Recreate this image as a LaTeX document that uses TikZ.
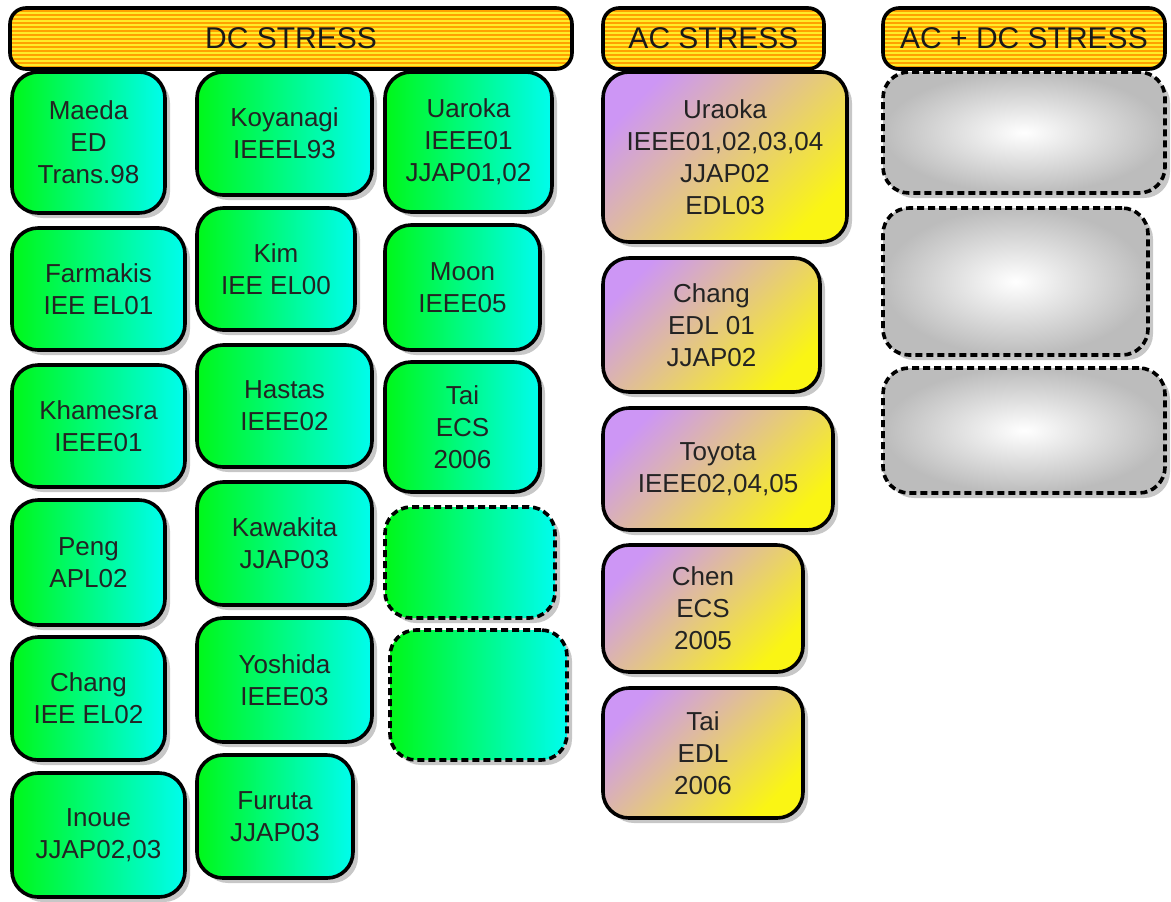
\documentclass[tikz,border=0pt]{standalone}
\usepackage{fontspec}
\setmainfont{Liberation Sans}
\usepackage{tikz}
\usetikzlibrary{shadows,patterns.meta}
\definecolor{dcleft}{RGB}{0,248,25}
\definecolor{dcright}{RGB}{0,252,238}
\definecolor{acpurple}{RGB}{205,150,245}
\definecolor{acyellow}{RGB}{250,245,20}
\definecolor{grayout}{RGB}{188,188,188}
\definecolor{hdorange}{RGB}{255,160,0}
\definecolor{hdstripe}{RGB}{255,235,40}
\definecolor{txt}{RGB}{35,35,35}
\tikzset{
  stbox/.style={
    draw=black, line width=1.8pt, rounded corners=13pt,
    align=center, text=txt, font=\fontsize{13}{16}\selectfont,
    drop shadow={shadow xshift=2.5pt, shadow yshift=-2.5pt, fill=black!22, opacity=1}
  },
  sz/.style 2 args={minimum width=#1pt, minimum height=#2pt},
  dcbox/.style={stbox, left color=dcleft, right color=dcright},
  acbox/.style={stbox, top color=acpurple, bottom color=acyellow, shading angle=45},
  acdcbox/.style={stbox, dash pattern=on 3.5pt off 2pt, inner color=white, outer color=grayout},
  openbox/.style={dash pattern=on 3.5pt off 2pt},
  hdr/.style={
    draw=black, line width=1.8pt, rounded corners=8pt, text=black!90,
    font=\fontsize{15}{18}\selectfont,
    preaction={fill=hdorange},
    pattern={Lines[angle=0,distance=2pt,line width=0.6pt]}, pattern color=hdstripe
  }
}

\begin{document}
\begin{tikzpicture}[x=0.5pt,y=-0.5pt]
\useasboundingbox (0,0) rectangle (1171,901);
% headers
\node[hdr, sz={281}{30.5}] (hdc) at (291,38.5) {DC STRESS};
\node[hdr, sz={110.5}{30.5}] (hac) at (713.5,38.5) {AC STRESS};
\node[hdr, sz={141}{30.5}] (hacdc) at (1024,38.5) {AC + DC STRESS};

% dc stress, first column
\node[dcbox, sz={76.5}{70.5}] (dcMaeda) at (88.5,142.5) {Maeda\\ED\\Trans.98};
\node[dcbox, sz={86.5}{61}] (dcFarmakis) at (98.5,289) {Farmakis\\IEE EL01};
\node[dcbox, sz={86.5}{61}] (dcKhamesra) at (98.5,426) {Khamesra\\IEEE01};
\node[dcbox, sz={76.5}{62.5}] (dcPeng) at (88.5,562.5) {Peng\\APL02};
\node[dcbox, sz={76.5}{61.5}] (dcChang) at (88.5,698.5) {Chang\\IEE EL02};
\node[dcbox, sz={86.5}{62}] (dcInoue) at (98.5,835) {Inoue\\JJAP02,03};

% second column
\node[dcbox, sz={87.5}{61.5}] (dcKoyanagi) at (284.5,133.5) {Koyanagi\\IEEEL93};
\node[dcbox, sz={79}{61}] (dcKim) at (276,269) {Kim\\IEE EL00};
\node[dcbox, sz={87.5}{61}] (dcHastas) at (284.5,406) {Hastas\\IEEE02};
\node[dcbox, sz={87.5}{61.5}] (dcKawakita) at (284.5,543.5) {Kawakita\\JJAP03};
\node[dcbox, sz={87.5}{62}] (dcYoshida) at (284.5,680) {Yoshida\\IEEE03};
\node[dcbox, sz={78}{61.5}] (dcFuruta) at (275,816.5) {Furuta\\JJAP03};

% third column
\node[dcbox, sz={83.5}{70}] (dcUaroka) at (468.5,142) {Uaroka\\IEEE01\\JJAP01,02};
\node[dcbox, sz={77.5}{62.5}] (dcMoon) at (462.5,287.5) {Moon\\IEEE05};
\node[dcbox, sz={77.5}{65}] (dcTai) at (462.5,427) {Tai\\ECS\\2006};
\node[dcbox, openbox, sz={85}{55.5}] (dcOpenA) at (470,562.5) {};
\node[dcbox, openbox, sz={88.5}{65}] (dcOpenB) at (478.5,695) {};

% ac stress
\node[acbox, sz={122}{85}] (acUraoka) at (725,157) {Uraoka\\IEEE01,02,03,04\\JJAP02\\EDL03};
\node[acbox, sz={108.5}{67}] (acChang) at (711.5,325) {Chang\\EDL 01\\JJAP02};
\node[acbox, sz={115}{61}] (acToyota) at (718,469) {Toyota\\IEEE02,04,05};
\node[acbox, sz={100}{63.5}] (acChen) at (703,608.5) {Chen\\ECS\\2005};
\node[acbox, sz={100}{65}] (acTai) at (703,753) {Tai\\EDL\\2006};

% ac + dc stress
\node[acdcbox, sz={141}{60.5}] (acdcA) at (1024,132.5) {};
\node[acdcbox, sz={132.5}{73.5}] (acdcB) at (1015.5,281.5) {};
\node[acdcbox, sz={141}{62.5}] (acdcC) at (1024,430.5) {};
\end{tikzpicture}
\end{document}
